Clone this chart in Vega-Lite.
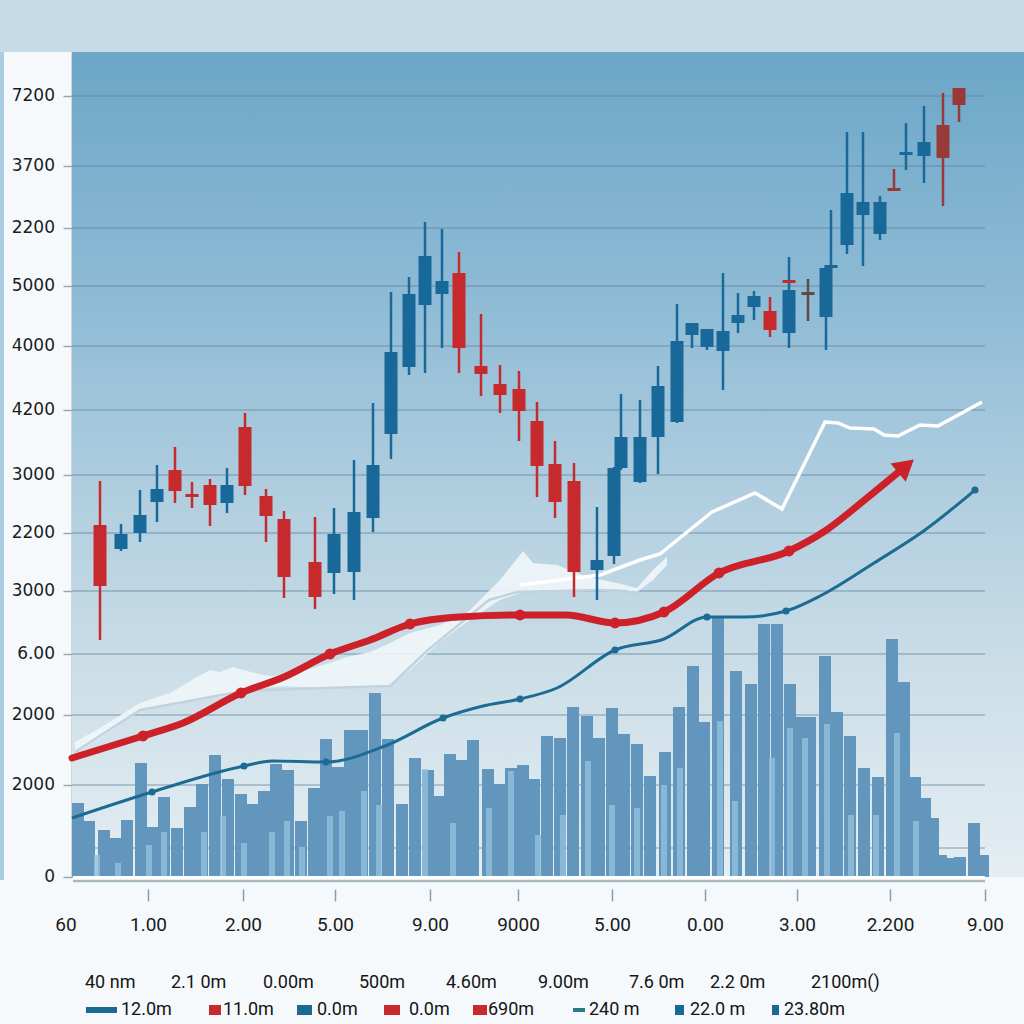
{
  "$schema": "https://vega.github.io/schema/vega-lite/v6.json",
  "width": 952,
  "height": 825,
  "autosize": {"type": "none"},
  "padding": {"left": 72, "top": 52, "right": 0, "bottom": 147},
  "background": "#f6f9fb",
  "config": {
    "view": {"stroke": null},
    "axisY": {"labels": false, "tickSize": 9, "tickColor": "#9aa8b2", "tickWidth": 1.5, "domainColor": "#a9b7c1", "domainWidth": 2, "grid": false, "title": null},
    "axisX": {"labelFont": "Roboto", "labelFontSize": 19, "labelColor": "#1a1a1a", "labelPadding": 14,
      "tickSize": 12, "tickColor": "#8d9ca6", "tickWidth": 1.5, "grid": false, "domain": false, "title": null}
  },
  "datasets": {
    "bg": [{"x": 72, "x2": 1024, "y": 0, "y2": 825}],
    "band": [{"x": 0, "x2": 1024, "y": 825, "y2": 877}],
    "stripe": [{"x": 0, "x2": 4, "y": -3, "y2": 825}],
    "grid": [{"y": 781}, {"y": 711}, {"y": 649}, {"y": 591}, {"y": 531}, {"y": 467}, {"y": 402}, {"y": 344}, {"y": 286}, {"y": 223}, {"y": 162}, {"y": 92}, {"y": 29}],
    "ylab": [
      {"y": 781, "t": "7200"}, {"y": 711, "t": "3700"}, {"y": 649, "t": "2200"}, {"y": 591, "t": "5000"},
      {"y": 531, "t": "4000"}, {"y": 467, "t": "4200"}, {"y": 402, "t": "3000"}, {"y": 344, "t": "2200"},
      {"y": 286, "t": "3000"}, {"y": 223, "t": "6.00"}, {"y": 162, "t": "2000"}, {"y": 92, "t": "2000"}, {"y": 0, "t": "0"}
    ],
    "candles": [
      {"x": 100, "y": 352, "y2": 291, "hi": 396, "lo": 237, "d": "r"},
      {"x": 121, "y": 343, "y2": 328, "hi": 353, "lo": 326, "d": "b"},
      {"x": 140, "y": 362, "y2": 344, "hi": 387, "lo": 335, "d": "b"},
      {"x": 157, "y": 388, "y2": 375, "hi": 412, "lo": 355, "d": "b"},
      {"x": 175, "y": 407, "y2": 386, "hi": 430, "lo": 374, "d": "r"},
      {"x": 192, "y": 383, "y2": 380, "hi": 395, "lo": 369, "d": "r"},
      {"x": 210, "y": 392, "y2": 372, "hi": 398, "lo": 351, "d": "r"},
      {"x": 227, "y": 392, "y2": 374, "hi": 409, "lo": 364, "d": "b"},
      {"x": 245, "y": 450, "y2": 391, "hi": 464, "lo": 382, "d": "r"},
      {"x": 266, "y": 381, "y2": 361, "hi": 388, "lo": 335, "d": "r"},
      {"x": 284, "y": 358, "y2": 300, "hi": 366, "lo": 279, "d": "r"},
      {"x": 315, "y": 315, "y2": 280, "hi": 360, "lo": 268, "d": "r"},
      {"x": 334, "y": 343, "y2": 304, "hi": 369, "lo": 283, "d": "b"},
      {"x": 354, "y": 365, "y2": 305, "hi": 417, "lo": 277, "d": "b"},
      {"x": 373, "y": 412, "y2": 359, "hi": 474, "lo": 345, "d": "b"},
      {"x": 391, "y": 525, "y2": 443, "hi": 585, "lo": 418, "d": "b"},
      {"x": 409, "y": 583, "y2": 510, "hi": 600, "lo": 502, "d": "b"},
      {"x": 425, "y": 621, "y2": 572, "hi": 655, "lo": 504, "d": "b"},
      {"x": 442, "y": 596, "y2": 583, "hi": 648, "lo": 529, "d": "b"},
      {"x": 459, "y": 604, "y2": 529, "hi": 625, "lo": 504, "d": "r"},
      {"x": 481, "y": 511, "y2": 503, "hi": 563, "lo": 481, "d": "r"},
      {"x": 500, "y": 493, "y2": 482, "hi": 512, "lo": 464, "d": "r"},
      {"x": 519, "y": 488, "y2": 466, "hi": 506, "lo": 436, "d": "r"},
      {"x": 537, "y": 456, "y2": 411, "hi": 475, "lo": 380, "d": "r"},
      {"x": 555, "y": 413, "y2": 375, "hi": 436, "lo": 359, "d": "r"},
      {"x": 574, "y": 396, "y2": 305, "hi": 414, "lo": 280, "d": "r"},
      {"x": 597, "y": 317, "y2": 307, "hi": 370, "lo": 277, "d": "b"},
      {"x": 614, "y": 409, "y2": 321, "hi": 410, "lo": 313, "d": "b"},
      {"x": 621, "y": 440, "y2": 409, "hi": 483, "lo": 407, "d": "b"},
      {"x": 640, "y": 440, "y2": 395, "hi": 477, "lo": 394, "d": "b"},
      {"x": 658, "y": 491, "y2": 440, "hi": 511, "lo": 403, "d": "b"},
      {"x": 677, "y": 536, "y2": 455, "hi": 573, "lo": 454, "d": "b"},
      {"x": 692, "y": 554, "y2": 542, "hi": 554, "lo": 529, "d": "b"},
      {"x": 707, "y": 548, "y2": 530, "hi": 548, "lo": 527, "d": "b"},
      {"x": 723, "y": 546, "y2": 526, "hi": 604, "lo": 487, "d": "b"},
      {"x": 738, "y": 562, "y2": 554, "hi": 584, "lo": 544, "d": "b"},
      {"x": 754, "y": 581, "y2": 570, "hi": 586, "lo": 557, "d": "b"},
      {"x": 770, "y": 566, "y2": 547, "hi": 580, "lo": 540, "d": "r"},
      {"x": 789, "y": 587, "y2": 544, "hi": 620, "lo": 529, "d": "b"},
      {"x": 789, "y": 597, "y2": 594, "hi": 596, "lo": 596, "d": "r"},
      {"x": 808, "y": 585, "y2": 582, "hi": 598, "lo": 556, "d": "k"},
      {"x": 826, "y": 609, "y2": 560, "hi": 612, "lo": 527, "d": "b"},
      {"x": 831, "y": 612, "y2": 609, "hi": 667, "lo": 609, "d": "b"},
      {"x": 847, "y": 684, "y2": 632, "hi": 745, "lo": 623, "d": "b"},
      {"x": 863, "y": 675, "y2": 662, "hi": 745, "lo": 611, "d": "b"},
      {"x": 880, "y": 675, "y2": 643, "hi": 681, "lo": 637, "d": "b"},
      {"x": 894, "y": 689, "y2": 686, "hi": 708, "lo": 686, "d": "m"},
      {"x": 906, "y": 725, "y2": 722, "hi": 754, "lo": 707, "d": "b"},
      {"x": 924, "y": 735, "y2": 721, "hi": 771, "lo": 694, "d": "b"},
      {"x": 943, "y": 752, "y2": 719, "hi": 784, "lo": 671, "d": "m"},
      {"x": 959, "y": 789, "y2": 772, "hi": 789, "lo": 755, "d": "m"}
    ],
    "vol": [
      {"x": 78, "y": 74}, {"x": 89, "y": 56}, {"x": 104, "y": 47}, {"x": 116, "y": 39}, {"x": 127, "y": 57},
      {"x": 141, "y": 114}, {"x": 153, "y": 50}, {"x": 164, "y": 80}, {"x": 177, "y": 49}, {"x": 190, "y": 70},
      {"x": 202, "y": 93}, {"x": 215, "y": 122}, {"x": 228, "y": 98}, {"x": 241, "y": 83}, {"x": 252, "y": 73},
      {"x": 264, "y": 86}, {"x": 276, "y": 113}, {"x": 288, "y": 107}, {"x": 301, "y": 56}, {"x": 314, "y": 89},
      {"x": 326, "y": 138}, {"x": 338, "y": 110}, {"x": 350, "y": 147}, {"x": 362, "y": 147}, {"x": 375, "y": 184},
      {"x": 388, "y": 138}, {"x": 402, "y": 73}, {"x": 415, "y": 119}, {"x": 428, "y": 107}, {"x": 438, "y": 81},
      {"x": 450, "y": 123}, {"x": 462, "y": 117}, {"x": 473, "y": 137}, {"x": 488, "y": 108}, {"x": 500, "y": 93},
      {"x": 511, "y": 109}, {"x": 523, "y": 112}, {"x": 534, "y": 98}, {"x": 547, "y": 141}, {"x": 560, "y": 139},
      {"x": 573, "y": 170}, {"x": 587, "y": 161}, {"x": 599, "y": 139}, {"x": 612, "y": 169}, {"x": 624, "y": 143},
      {"x": 637, "y": 133}, {"x": 650, "y": 101}, {"x": 665, "y": 125}, {"x": 679, "y": 170}, {"x": 693, "y": 211},
      {"x": 704, "y": 155}, {"x": 718, "y": 261}, {"x": 736, "y": 206}, {"x": 751, "y": 193}, {"x": 764, "y": 253},
      {"x": 777, "y": 253}, {"x": 790, "y": 193}, {"x": 799, "y": 160}, {"x": 810, "y": 160}, {"x": 825, "y": 221},
      {"x": 837, "y": 165}, {"x": 850, "y": 141}, {"x": 864, "y": 109}, {"x": 878, "y": 100}, {"x": 892, "y": 238},
      {"x": 904, "y": 195}, {"x": 915, "y": 100}, {"x": 925, "y": 79}, {"x": 933, "y": 59}, {"x": 941, "y": 22},
      {"x": 950, "y": 19}, {"x": 960, "y": 20}, {"x": 974, "y": 54}, {"x": 983, "y": 22}
    ],
    "vol2": [
      {"x": 97, "y": 22}, {"x": 118, "y": 14}, {"x": 149, "y": 32}, {"x": 164, "y": 45}, {"x": 204, "y": 45},
      {"x": 223, "y": 61}, {"x": 244, "y": 34}, {"x": 272, "y": 45}, {"x": 287, "y": 56}, {"x": 302, "y": 30},
      {"x": 330, "y": 61}, {"x": 342, "y": 66}, {"x": 364, "y": 86}, {"x": 379, "y": 72}, {"x": 425, "y": 108},
      {"x": 453, "y": 54}, {"x": 489, "y": 69}, {"x": 511, "y": 106}, {"x": 538, "y": 42}, {"x": 563, "y": 62},
      {"x": 588, "y": 116}, {"x": 612, "y": 72}, {"x": 637, "y": 69}, {"x": 664, "y": 92}, {"x": 680, "y": 109},
      {"x": 720, "y": 156}, {"x": 735, "y": 76}, {"x": 772, "y": 119}, {"x": 790, "y": 149}, {"x": 805, "y": 139},
      {"x": 827, "y": 153}, {"x": 851, "y": 62}, {"x": 876, "y": 62}, {"x": 897, "y": 144}, {"x": 916, "y": 56}
    ],
    "warea": [
      {"x": 75, "y": 135, "y2": 125}, {"x": 100, "y": 149, "y2": 139}, {"x": 140, "y": 174, "y2": 167},
      {"x": 170, "y": 184, "y2": 172}, {"x": 197, "y": 200, "y2": 177}, {"x": 210, "y": 207, "y2": 179},
      {"x": 220, "y": 205, "y2": 180}, {"x": 233, "y": 210, "y2": 183}, {"x": 243, "y": 207, "y2": 186},
      {"x": 263, "y": 202, "y2": 189}, {"x": 283, "y": 200, "y2": 191}, {"x": 323, "y": 212, "y2": 189},
      {"x": 347, "y": 220, "y2": 189}, {"x": 370, "y": 225, "y2": 189}, {"x": 390, "y": 234, "y2": 192},
      {"x": 410, "y": 244, "y2": 207}, {"x": 440, "y": 252, "y2": 235}, {"x": 467, "y": 264, "y2": 255},
      {"x": 500, "y": 297, "y2": 277}, {"x": 523, "y": 326, "y2": 285}, {"x": 533, "y": 314, "y2": 286},
      {"x": 557, "y": 312, "y2": 287}, {"x": 587, "y": 300, "y2": 288}, {"x": 617, "y": 294, "y2": 288},
      {"x": 637, "y": 289, "y2": 285}, {"x": 653, "y": 307, "y2": 297}, {"x": 667, "y": 320, "y2": 312}
    ],
    "gline": [
      {"x": 75, "y": 125}, {"x": 140, "y": 167}, {"x": 243, "y": 186}, {"x": 323, "y": 189}, {"x": 390, "y": 191},
      {"x": 428, "y": 227}, {"x": 489, "y": 277}, {"x": 517, "y": 285}, {"x": 600, "y": 287}, {"x": 640, "y": 284}
    ],
    "wline": [
      {"x": 520, "y": 292}, {"x": 560, "y": 297}, {"x": 600, "y": 302}, {"x": 640, "y": 317}, {"x": 660, "y": 323},
      {"x": 712, "y": 365}, {"x": 755, "y": 384}, {"x": 782, "y": 368}, {"x": 825, "y": 455}, {"x": 838, "y": 454},
      {"x": 850, "y": 449}, {"x": 874, "y": 448}, {"x": 884, "y": 442}, {"x": 898, "y": 441}, {"x": 920, "y": 452},
      {"x": 938, "y": 451}, {"x": 982, "y": 475}
    ],
    "red": [
      {"x": 72, "y": 119, "m": 0}, {"x": 143, "y": 141, "m": 1}, {"x": 183, "y": 154, "m": 0}, {"x": 241, "y": 184, "m": 1},
      {"x": 284, "y": 200, "m": 0}, {"x": 330, "y": 223, "m": 1}, {"x": 370, "y": 237, "m": 0}, {"x": 410, "y": 253, "m": 1},
      {"x": 459, "y": 260, "m": 0}, {"x": 520, "y": 262, "m": 1}, {"x": 566, "y": 262, "m": 0}, {"x": 615, "y": 254, "m": 1},
      {"x": 664, "y": 265, "m": 1}, {"x": 719, "y": 304, "m": 1}, {"x": 789, "y": 326, "m": 1}, {"x": 825, "y": 346, "m": 0},
      {"x": 867, "y": 379, "m": 0}, {"x": 901, "y": 407, "m": 0}
    ],
    "arrow": [{"x": 906, "y": 411}],
    "blue": [
      {"x": 72, "y": 59, "m": 0}, {"x": 152, "y": 85, "m": 1}, {"x": 244, "y": 111, "m": 1}, {"x": 272, "y": 116, "m": 0},
      {"x": 326, "y": 115, "m": 1}, {"x": 385, "y": 131, "m": 0}, {"x": 443, "y": 159, "m": 1}, {"x": 483, "y": 171, "m": 0},
      {"x": 520, "y": 178, "m": 1}, {"x": 557, "y": 189, "m": 0}, {"x": 615, "y": 227, "m": 1}, {"x": 664, "y": 238, "m": 0},
      {"x": 707, "y": 260, "m": 1}, {"x": 744, "y": 260, "m": 0}, {"x": 786, "y": 266, "m": 1}, {"x": 822, "y": 282, "m": 0},
      {"x": 874, "y": 314, "m": 0}, {"x": 925, "y": 347, "m": 0}, {"x": 975, "y": 387, "m": 1}
    ],
    "xlab": [{"x": 66, "y": -48, "t": "60"}],
    "leg": [
      {"x": 85, "y": -106, "t": "40 nm"}, {"x": 171, "y": -106, "t": "2.1 0m"}, {"x": 263, "y": -106, "t": "0.00m"},
      {"x": 359, "y": -106, "t": "500m"}, {"x": 446, "y": -106, "t": "4.60m"}, {"x": 538, "y": -106, "t": "9.00m"},
      {"x": 629, "y": -106, "t": "7.6 0m"}, {"x": 710, "y": -106, "t": "2.2 0m"}, {"x": 811, "y": -106, "t": "2100m()"},
      {"x": 121, "y": -133, "t": "12.0m"}, {"x": 223, "y": -133, "t": "11.0m"}, {"x": 317, "y": -133, "t": "0.0m"},
      {"x": 409, "y": -133, "t": "0.0m"}, {"x": 488, "y": -133, "t": "690m"}, {"x": 589, "y": -133, "t": "240 m"},
      {"x": 690, "y": -133, "t": "22.0 m"}, {"x": 784, "y": -133, "t": "23.80m"}
    ],
    "legm": [
      {"x": 86, "x2": 117, "y": -130, "y2": -136, "d": "db"},
      {"x": 209, "x2": 221, "y": -128, "y2": -138, "d": "r"},
      {"x": 297, "x2": 312, "y": -128, "y2": -138, "d": "db"},
      {"x": 384, "x2": 400, "y": -128, "y2": -138, "d": "r"},
      {"x": 473, "x2": 487, "y": -128, "y2": -138, "d": "r"},
      {"x": 573, "x2": 585, "y": -131, "y2": -135, "d": "t"},
      {"x": 675, "x2": 684, "y": -128, "y2": -138, "d": "b"},
      {"x": 772, "x2": 779, "y": -128, "y2": -138, "d": "b"}
    ]
  },
  "layer": [
    {
      "data": {"name": "bg"},
      "mark": {"type": "rect", "color": {"gradient": "linear", "x1": 0, "y1": 0, "x2": 0, "y2": 1, "stops": [
        {"offset": 0, "color": "#6ca6c7"}, {"offset": 0.3, "color": "#8ebbd5"}, {"offset": 0.55, "color": "#b2cfe0"},
        {"offset": 0.78, "color": "#cfe0e9"}, {"offset": 1, "color": "#e4eef3"}]}},
      "encoding": {
        "x": {"field": "x", "type": "quantitative", "scale": {"domain": [72, 1024], "nice": false, "zero": false, "padding": 0},
          "axis": {"values": [148, 243, 335, 430, 518, 612, 705, 797, 890, 985],
            "labelExpr": "datum.value==148?'1.00':datum.value==243?'2.00':datum.value==335?'5.00':datum.value==430?'9.00':datum.value==518?'9000':datum.value==612?'5.00':datum.value==705?'0.00':datum.value==797?'3.00':datum.value==890?'2.200':'9.00'",
            "title": null, "grid": false, "domain": false, "ticks": true, "offset": 12,
            "labelFlush": false, "labelOverlap": false}},
        "x2": {"field": "x2"},
        "y": {"field": "y", "type": "quantitative", "scale": {"domain": [0, 825], "nice": false, "zero": false},
          "axis": {"values": [781, 711, 649, 591, 531, 467, 402, 344, 286, 223, 162, 92, 0],
            "title": null, "grid": false, "domain": true, "ticks": true, "labels": false}},
        "y2": {"field": "y2"}
      }
    },
    {
      "data": {"name": "band"},
      "mark": {"type": "rect", "color": "#c5dce7"},
      "encoding": {
        "x": {"field": "x", "type": "quantitative"}, "x2": {"field": "x2"},
        "y": {"field": "y", "type": "quantitative"}, "y2": {"field": "y2"}
      }
    },
    {
      "data": {"name": "stripe"},
      "mark": {"type": "rect", "color": "#a9cde0"},
      "encoding": {
        "x": {"field": "x", "type": "quantitative"}, "x2": {"field": "x2"},
        "y": {"field": "y", "type": "quantitative"}, "y2": {"field": "y2"}
      }
    },
    {
      "data": {"name": "ylab"},
      "mark": {"type": "text", "font": "DejaVu Sans", "fontSize": 17, "color": "#1c1c1c", "align": "right", "baseline": "middle"},
      "encoding": {
        "x": {"datum": 55, "type": "quantitative"},
        "y": {"field": "y", "type": "quantitative"},
        "text": {"field": "t"}
      }
    },
    {
      "data": {"name": "grid"},
      "mark": {"type": "rule", "color": "#5d8199", "opacity": 0.5, "strokeWidth": 1.6},
      "encoding": {
        "x": {"datum": 72, "type": "quantitative"}, "x2": {"datum": 985},
        "y": {"field": "y", "type": "quantitative"}
      }
    },
    {
      "data": {"name": "vol"},
      "mark": {"type": "bar", "color": "#6296bd", "size": 12},
      "encoding": {
        "x": {"field": "x", "type": "quantitative", "scale": {"padding": 0}},
        "y": {"field": "y", "type": "quantitative", "stack": null}, "y2": {"datum": 0}
      }
    },
    {
      "data": {"name": "vol2"},
      "mark": {"type": "bar", "color": "#92c0dc", "opacity": 0.8, "size": 6},
      "encoding": {
        "x": {"field": "x", "type": "quantitative", "scale": {"padding": 0}},
        "y": {"field": "y", "type": "quantitative", "stack": null}, "y2": {"datum": 0}
      }
    },
    {
      "data": {"name": "warea"},
      "mark": {"type": "area", "color": "#f0f6fa", "opacity": 0.9},
      "encoding": {
        "x": {"field": "x", "type": "quantitative"},
        "y": {"field": "y", "type": "quantitative", "stack": null}, "y2": {"field": "y2"}
      }
    },
    {
      "data": {"name": "gline"},
      "mark": {"type": "line", "color": "#c3d3dd", "strokeWidth": 2.5},
      "encoding": {
        "x": {"field": "x", "type": "quantitative"},
        "y": {"field": "y", "type": "quantitative"}
      }
    },
    {
      "data": {"name": "wline"},
      "mark": {"type": "line", "color": "#ffffff", "strokeWidth": 3.5},
      "encoding": {
        "x": {"field": "x", "type": "quantitative"},
        "y": {"field": "y", "type": "quantitative"}
      }
    },
    {
      "data": {"name": "blue"},
      "mark": {"type": "line", "color": "#1b6b93", "strokeWidth": 3, "interpolate": "monotone"},
      "encoding": {
        "x": {"field": "x", "type": "quantitative"},
        "y": {"field": "y", "type": "quantitative"}
      }
    },
    {
      "data": {"name": "blue"},
      "transform": [{"filter": "datum.m == 1"}],
      "mark": {"type": "point", "filled": true, "color": "#1b6b93", "size": 50, "opacity": 1},
      "encoding": {
        "x": {"field": "x", "type": "quantitative"},
        "y": {"field": "y", "type": "quantitative"}
      }
    },
    {
      "data": {"name": "red"},
      "mark": {"type": "line", "color": "#cc2128", "strokeWidth": 7, "interpolate": "monotone", "strokeCap": "round"},
      "encoding": {
        "x": {"field": "x", "type": "quantitative"},
        "y": {"field": "y", "type": "quantitative"}
      }
    },
    {
      "data": {"name": "red"},
      "transform": [{"filter": "datum.m == 1"}],
      "mark": {"type": "point", "filled": true, "color": "#cc2128", "size": 120, "opacity": 1},
      "encoding": {
        "x": {"field": "x", "type": "quantitative"},
        "y": {"field": "y", "type": "quantitative"}
      }
    },
    {
      "data": {"name": "arrow"},
      "mark": {"type": "point", "shape": "triangle-up", "filled": true, "color": "#cc2128", "size": 560, "angle": 50, "opacity": 1},
      "encoding": {
        "x": {"field": "x", "type": "quantitative"},
        "y": {"field": "y", "type": "quantitative"}
      }
    },
    {
      "data": {"name": "candles"},
      "mark": {"type": "rule", "strokeWidth": 2.5},
      "encoding": {
        "x": {"field": "x", "type": "quantitative"},
        "y": {"field": "hi", "type": "quantitative"},
        "y2": {"field": "lo"},
        "color": {"field": "d", "type": "nominal", "legend": null,
          "scale": {"domain": ["r", "b", "k", "m", "db", "t"], "range": ["#c72a2c", "#18699a", "#5e4b49", "#9a3a38", "#1b6a94", "#2a7a8a"]}}
      }
    },
    {
      "data": {"name": "candles"},
      "mark": {"type": "bar", "size": 13},
      "encoding": {
        "x": {"field": "x", "type": "quantitative", "scale": {"padding": 0}},
        "y": {"field": "y", "type": "quantitative", "stack": null},
        "y2": {"field": "y2"},
        "color": {"field": "d", "type": "nominal", "legend": null}
      }
    },
    {
      "data": {"values": [{"y": -1}]},
      "mark": {"type": "rule", "color": "#ffffff", "strokeWidth": 4},
      "encoding": {
        "x": {"datum": 73, "type": "quantitative"}, "x2": {"datum": 985},
        "y": {"field": "y", "type": "quantitative"}
      }
    },
    {
      "data": {"values": [{"y": -4}]},
      "mark": {"type": "rule", "color": "#a8b6bf", "strokeWidth": 2.5},
      "encoding": {
        "x": {"datum": 73, "type": "quantitative"}, "x2": {"datum": 985},
        "y": {"field": "y", "type": "quantitative"}
      }
    },
    {
      "data": {"name": "xlab"},
      "mark": {"type": "text", "font": "Roboto", "fontSize": 19, "color": "#1a1a1a", "align": "center", "baseline": "middle"},
      "encoding": {
        "x": {"field": "x", "type": "quantitative"},
        "y": {"field": "y", "type": "quantitative"},
        "text": {"field": "t"}
      }
    },
    {
      "data": {"name": "legm"},
      "mark": {"type": "rect"},
      "encoding": {
        "x": {"field": "x", "type": "quantitative"}, "x2": {"field": "x2"},
        "y": {"field": "y", "type": "quantitative"}, "y2": {"field": "y2"},
        "color": {"field": "d", "type": "nominal", "legend": null}
      }
    },
    {
      "data": {"name": "leg"},
      "mark": {"type": "text", "font": "Roboto", "fontSize": 18, "color": "#141414", "align": "left", "baseline": "middle"},
      "encoding": {
        "x": {"field": "x", "type": "quantitative"},
        "y": {"field": "y", "type": "quantitative"},
        "text": {"field": "t"}
      }
    }
  ]
}
